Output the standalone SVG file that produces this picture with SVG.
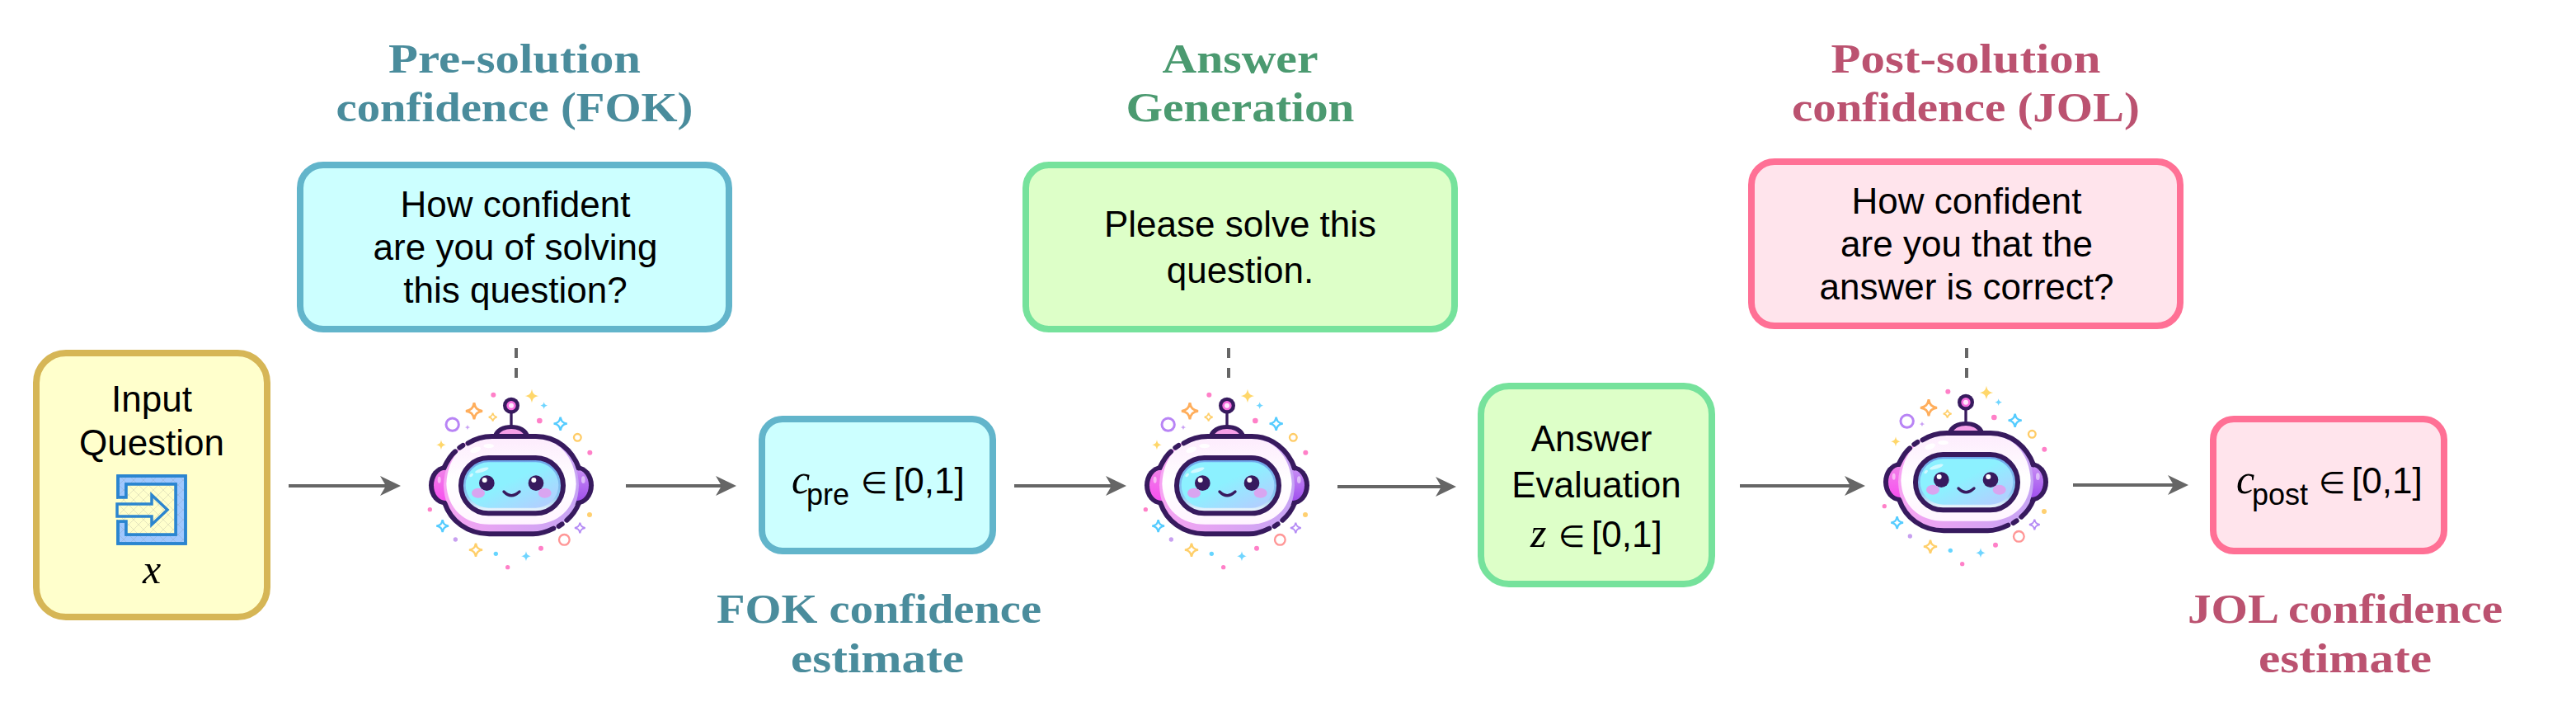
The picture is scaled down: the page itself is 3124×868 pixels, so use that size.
<svg xmlns="http://www.w3.org/2000/svg" xmlns:xlink="http://www.w3.org/1999/xlink" width="3124" height="868" viewBox="0 0 3124 868">
<style>
  .box { stroke-width: 8; }
  .yellow { fill: #ffffcc; stroke: #d6b656; }
  .teal { fill: #ccffff; stroke: #62b5cb; }
  .green { fill: #ddffc8; stroke: #76e29c; }
  .pink { fill: #ffe4ec; stroke: #ff7095; }
  .label { font-family: "Liberation Sans", Arial, sans-serif; font-size: 44px; fill: #000; text-anchor: middle; }
  .sym { font-family: "DejaVu Sans", sans-serif; font-size: 37px; fill: #000; }
  .num { font-family: "Liberation Sans", Arial, sans-serif; font-size: 44px; fill: #000; }
  .sub { font-family: "Liberation Sans", Arial, sans-serif; font-size: 36px; fill: #000; }
  .var { font-family: "Liberation Serif", "Times New Roman", serif; font-style: italic; font-size: 50px; fill: #000; }
  .head { font-family: "Liberation Serif", "Times New Roman", serif; font-weight: bold; font-size: 50px; text-anchor: middle; }
  .h-teal { fill: #4a8c9c; }
  .h-green { fill: #4b9a70; }
  .h-pink { fill: #bb5270; }
  .flow { stroke: #666; stroke-width: 4; fill: none; marker-end: url(#tip); }
  .dash { stroke: #666; stroke-width: 4; fill: none; stroke-dasharray: 12 12; }
  .line { fill: none; stroke: #371a5e; stroke-width: 18; stroke-linecap: round; }
  .pt { fill: #ff80c8; }
</style>
<defs>
  <marker id="tip" markerUnits="userSpaceOnUse" markerWidth="26" markerHeight="26" refX="7" refY="13" orient="auto">
    <path d="M0 1 L25 13 L0 25 L7 13 Z" fill="#666"/>
  </marker>
  <pattern id="hatch" width="12" height="12" patternUnits="userSpaceOnUse">
    <path d="M0 0 L12 12 M12 0 L0 12" stroke="#8a8a8a" stroke-opacity=".22" stroke-width="1" fill="none"/>
  </pattern>
  <linearGradient id="shell" x1="0" y1="0" x2="0" y2="1">
    <stop offset="0" stop-color="#fdecfd"/>
    <stop offset=".5" stop-color="#fff"/>
    <stop offset="1" stop-color="#fff4ff"/>
  </linearGradient>
  <linearGradient id="rim" x1="0" y1="0" x2="1" y2="0">
    <stop offset="0" stop-color="#f7a4f2"/>
    <stop offset="1" stop-color="#c6a4f4"/>
  </linearGradient>
  <linearGradient id="glass" x1="0" y1="0" x2="1" y2="1">
    <stop offset=".45" stop-color="#8cf1ff"/>
    <stop offset="1" stop-color="#b9c8ff"/>
  </linearGradient>
  <linearGradient id="glassEdge" x1="0" y1="0" x2="0" y2="1">
    <stop offset="0" stop-color="#6ba5ea"/>
    <stop offset=".7" stop-color="#8cc8f2"/>
    <stop offset="1" stop-color="#fff"/>
  </linearGradient>
  <linearGradient id="earL" x1="0" y1="0" x2="0" y2="1">
    <stop offset="0" stop-color="#f080e8"/>
    <stop offset="1" stop-color="#f850f0"/>
  </linearGradient>
  <linearGradient id="earR" x1="0" y1="0" x2="0" y2="1">
    <stop offset="0" stop-color="#c78cf4"/>
    <stop offset="1" stop-color="#a050ee"/>
  </linearGradient>
  <path id="star" d="M0 -1 C.12 -.35 .35 -.12 1 0 C.35 .12 .12 .35 0 1 C-.12 .35 -.35 .12 -1 0 C-.35 -.12 -.12 -.35 0 -1 Z"/>

  <!-- Robot mascot, drawn on a 780 x 720 grid and placed with a scale of one third -->
  <g id="bot">
    <g id="sparkles">
      <use href="#star" transform="translate(465 60) scale(25)" fill="#ffd76a"/>
      <use href="#star" transform="translate(509 95) scale(13)" fill="#6fd5ff"/>
      <use href="#star" transform="translate(255 115) scale(30)" fill="#fff" stroke="#ffae5c" stroke-width=".28"/>
      <use href="#star" transform="translate(323 137) scale(15)" fill="#fff" stroke="#ffcf6a" stroke-width=".35"/>
      <use href="#star" transform="translate(231 174) scale(10)" fill="#c9a0f5"/>
      <use href="#star" transform="translate(569 161) scale(24)" fill="#fff" stroke="#55ccff" stroke-width=".3"/>
      <use href="#star" transform="translate(135 238) scale(18)" fill="#ffd76a"/>
      <use href="#star" transform="translate(140 533) scale(22)" fill="#fff" stroke="#55ccff" stroke-width=".32"/>
      <use href="#star" transform="translate(640 540) scale(19)" fill="#fff" stroke="#b58cf5" stroke-width=".32"/>
      <use href="#star" transform="translate(261 620) scale(24)" fill="#fff" stroke="#ffcf6a" stroke-width=".3"/>
      <use href="#star" transform="translate(444 643) scale(18)" fill="#6fd5ff"/>
      <circle cx="176" cy="164" r="23" fill="#fff" stroke="#b884f5" stroke-width="9"/>
      <circle cx="631" cy="211" r="13" fill="#fff" stroke="#ffcc66" stroke-width="7"/>
      <circle cx="583" cy="583" r="19" fill="#fff" stroke="#ff9696" stroke-width="7"/>
      <circle class="pt" cx="325" cy="56" r="9"/>
      <circle class="pt" cx="493" cy="150" r="10"/>
      <circle class="pt" cx="676" cy="266" r="9"/>
      <circle class="pt" cx="94" cy="473" r="8"/>
      <circle class="pt" cx="498" cy="614" r="9"/>
      <circle class="pt" cx="377" cy="683" r="8"/>
      <circle cx="675" cy="492" r="9" fill="#ffd070"/>
      <circle cx="187" cy="582" r="8" fill="#c8a0f0"/>
      <circle cx="334" cy="634" r="8" fill="#66d5ff"/>
    </g>
    <!-- ears sit behind the shell -->
    <ellipse cx="150" cy="385" rx="60" ry="72" fill="#371a5e"/>
    <ellipse cx="150" cy="385" rx="42" ry="56" fill="url(#earL)"/>
    <ellipse cx="128" cy="365" rx="6" ry="12" fill="#fff" opacity=".5"/>
    <ellipse cx="630" cy="385" rx="60" ry="72" fill="#371a5e"/>
    <ellipse cx="630" cy="385" rx="42" ry="56" fill="url(#earR)"/>
    <ellipse cx="652" cy="365" rx="7" ry="13" fill="#fff" opacity=".5"/>
    <!-- antenna and dome -->
    <line x1="390" y1="120" x2="390" y2="175" stroke="#371a5e" stroke-width="10"/>
    <circle cx="390" cy="95" r="30" fill="#371a5e"/>
    <circle cx="390" cy="95" r="17" fill="#f76fe0"/>
    <circle cx="390" cy="95" r="9" fill="#ffe8ff"/>
    <path d="M324 205 C335 152 445 152 456 205 Z" fill="#371a5e"/>
    <path d="M342 205 C355 172 425 172 438 205 Z" fill="#f7a0e8"/>
    <!-- shell -->
    <path d="M310 207 H475 C565 207 632 275 636 385 C632 495 565 562 470 562 H310 C215 562 148 495 144 385 C148 275 215 207 310 207 Z" fill="url(#rim)"/>
    <path d="M310 214 H475 C560 214 622 280 626 380 C622 470 560 527 470 527 H310 C220 527 158 470 154 380 C158 280 220 214 310 214 Z" fill="url(#shell)"/>
    <ellipse cx="260" cy="256" rx="20" ry="10" transform="rotate(-20 260 256)" fill="#fff" opacity=".9"/>
    <ellipse cx="308" cy="242" rx="19" ry="8" fill="#fff" opacity=".9"/>
    <!-- segmented outline -->
    <path class="line" d="M233 232 C258 216 290 207 320 207 H480 C556 207 612 258 636 322"/>
    <path class="line" d="M202 248 L214 240" stroke-width="22"/>
    <path class="line" d="M186 262 C170 275 158 295 146 320"/>
    <path class="line" d="M148 450 C170 515 230 561 310 562 H470 C498 562 522 553 544 542"/>
    <path class="line" d="M563 534 L575 526" stroke-width="22"/>
    <path class="line" d="M592 512 C612 495 626 475 636 450"/>
    <!-- visor -->
    <rect x="207" y="285" width="372" height="202" rx="100" fill="url(#glassEdge)" stroke="#371a5e" stroke-width="18"/>
    <rect x="224" y="301" width="338" height="166" rx="83" fill="url(#glass)"/>
    <ellipse cx="283" cy="330" rx="26" ry="7" transform="rotate(-18 283 330)" fill="#fff" opacity=".6"/>
    <ellipse cx="245" cy="348" rx="8" ry="5" transform="rotate(-45 245 348)" fill="#fff" opacity=".6"/>
    <!-- face -->
    <circle cx="301" cy="377" r="28" fill="#371a5e"/>
    <circle cx="480" cy="377" r="28" fill="#371a5e"/>
    <circle cx="293" cy="366" r="9" fill="#fff"/>
    <circle cx="472" cy="366" r="9" fill="#fff"/>
    <ellipse cx="270" cy="413" rx="24" ry="18" fill="#d9a5f0"/>
    <ellipse cx="512" cy="413" rx="24" ry="18" fill="#d9a5f0"/>
    <path d="M363 408 Q390 436 420 408" fill="none" stroke="#371a5e" stroke-width="10" stroke-linecap="round"/>
  </g>
</defs>

<rect width="3124" height="868" fill="#fff"/>

<g id="connectors">
  <line class="flow" x1="350" y1="589" x2="468" y2="589"/>
  <line class="flow" x1="759" y1="589" x2="875" y2="589"/>
  <line class="flow" x1="1230" y1="589" x2="1348" y2="589"/>
  <line class="flow" x1="1622" y1="590" x2="1748" y2="590"/>
  <line class="flow" x1="2110" y1="589" x2="2244" y2="589"/>
  <line class="flow" x1="2514" y1="588" x2="2636" y2="588"/>
  <line class="dash" x1="626" y1="422" x2="626" y2="458"/>
  <line class="dash" x1="1490" y1="422" x2="1490" y2="458"/>
  <line class="dash" x1="2385" y1="422" x2="2385" y2="458"/>
</g>

<g id="input-question">
  <rect class="box yellow" x="44" y="428" width="280" height="320" rx="36"/>
  <text class="label" x="184" y="499">Input</text>
  <text class="label" x="184" y="552">Question</text>
  <g id="input-icon" stroke="#2a85d0" stroke-width="3.5" stroke-linejoin="miter">
    <path id="input-frame" d="M143 577 H225 V659 H143 V632 H153 V648 H213 V587 H153 V603 H143 Z" fill="#a0c8ff"/>
    <path id="input-well" d="M153 587 H213 V648 H153 V632 H143 V603 H153 Z" fill="#ffffcc" stroke="none"/>
    <path id="input-arrow" d="M142 611 H184 V600 L203 618 L184 636 V626 H142 Z" fill="#ffffcc"/>
    <rect x="143" y="577" width="82" height="82" fill="url(#hatch)" stroke="none"/>
    <path d="M143 577 H225 V659 H143 V632 H153 V648 H213 V587 H153 V603 H143 Z" fill="none"/>
  </g>
  <text class="var" x="184" y="707" text-anchor="middle">x</text>
</g>

<g id="fok-title">
  <text class="head h-teal" x="624" y="88" textLength="306" lengthAdjust="spacingAndGlyphs">Pre-solution</text>
  <text class="head h-teal" x="624" y="147" textLength="433" lengthAdjust="spacingAndGlyphs">confidence (FOK)</text>
</g>
<g id="fok-prompt">
  <rect class="box teal" x="364" y="200" width="520" height="199" rx="28"/>
  <text class="label" x="625" y="263">How confident</text>
  <text class="label" x="625" y="315">are you of solving</text>
  <text class="label" x="625" y="367">this question?</text>
</g>
<g id="robot-1"><use href="#bot" transform="translate(490 460) scale(.33333)"/></g>

<g id="fok-estimate">
  <rect class="box teal" x="924" y="508" width="280" height="160" rx="25"/>
  <text class="var" x="960" y="598">c</text>
  <text class="sub" x="978" y="612">pre</text>
  <text class="sym" x="1044" y="598">∈</text>
  <text class="num" x="1084" y="598">[0,1]</text>
</g>
<g id="fok-estimate-title">
  <text class="head h-teal" x="1066" y="755" textLength="394" lengthAdjust="spacingAndGlyphs">FOK confidence</text>
  <text class="head h-teal" x="1064" y="815" textLength="210" lengthAdjust="spacingAndGlyphs">estimate</text>
</g>

<g id="answer-title">
  <text class="head h-green" x="1504" y="88" textLength="189" lengthAdjust="spacingAndGlyphs">Answer</text>
  <text class="head h-green" x="1504" y="147" textLength="277" lengthAdjust="spacingAndGlyphs">Generation</text>
</g>
<g id="answer-prompt">
  <rect class="box green" x="1244" y="200" width="520" height="199" rx="28"/>
  <text class="label" x="1504" y="287">Please solve this</text>
  <text class="label" x="1504" y="343">question.</text>
</g>
<g id="robot-2"><use href="#bot" transform="translate(1358 460) scale(.33333)"/></g>

<g id="answer-evaluation">
  <rect class="box green" x="1796" y="468" width="280" height="240" rx="34"/>
  <text class="label" x="1930" y="547">Answer</text>
  <text class="label" x="1936" y="603">Evaluation</text>
  <text class="var" x="1856" y="663">z</text>
  <text class="sym" x="1890" y="663">∈</text>
  <text class="num" x="1930" y="663">[0,1]</text>
</g>

<g id="jol-title">
  <text class="head h-pink" x="2384" y="88" textLength="327" lengthAdjust="spacingAndGlyphs">Post-solution</text>
  <text class="head h-pink" x="2384" y="147" textLength="422" lengthAdjust="spacingAndGlyphs">confidence (JOL)</text>
</g>
<g id="jol-prompt">
  <rect class="box pink" x="2124" y="196" width="520" height="199" rx="28"/>
  <text class="label" x="2385" y="259">How confident</text>
  <text class="label" x="2385" y="311">are you that the</text>
  <text class="label" x="2385" y="363">answer is correct?</text>
</g>
<g id="robot-3"><use href="#bot" transform="translate(2254 456) scale(.33333)"/></g>

<g id="jol-estimate">
  <rect class="box pink" x="2684" y="508" width="280" height="160" rx="25"/>
  <text class="var" x="2712" y="598">c</text>
  <text class="sub" x="2731" y="612">post</text>
  <text class="sym" x="2812" y="598">∈</text>
  <text class="num" x="2852" y="598">[0,1]</text>
</g>
<g id="jol-estimate-title">
  <text class="head h-pink" x="2844" y="755" textLength="382" lengthAdjust="spacingAndGlyphs">JOL confidence</text>
  <text class="head h-pink" x="2844" y="815" textLength="210" lengthAdjust="spacingAndGlyphs">estimate</text>
</g>
</svg>
